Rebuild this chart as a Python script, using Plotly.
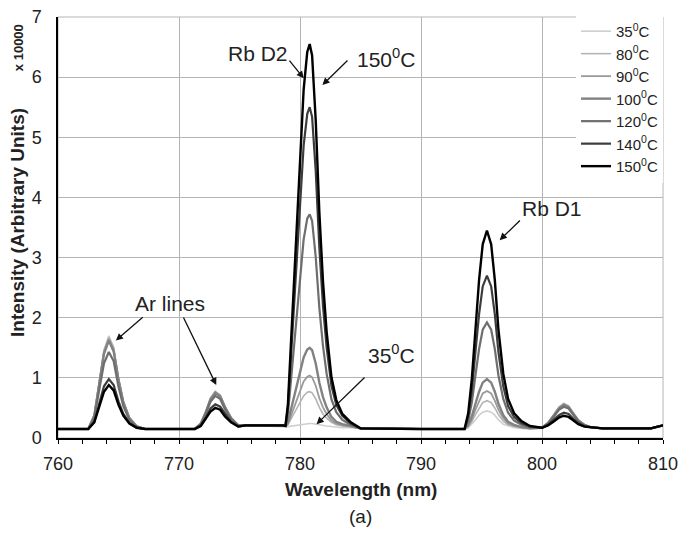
import plotly.graph_objects as go

wavelength = [760, 762.5, 763.0, 763.4, 763.8, 764.2, 764.6, 765.0, 765.4, 765.9, 766.5, 767.2,
              770.0, 771.3, 771.8, 772.2, 772.6, 773.0, 773.4, 773.8, 774.3, 774.9, 775.5,
              778.6, 778.8, 779.0, 779.3, 779.6, 780.0, 780.3, 780.6, 780.8, 781.0, 781.3, 781.6,
              781.9, 782.2, 782.6, 783.0, 783.5, 784.2, 785.0,
              790.0, 793.6, 793.9, 794.2, 794.5, 794.8, 795.1, 795.45, 795.8, 796.1, 796.4, 796.8,
              797.2, 797.7, 798.3, 799.0,
              800.0, 800.5, 801.0, 801.4, 801.8, 802.2, 802.6, 803.0, 803.5, 804.0, 805.0, 809.0, 810.0]

# intensities in units of 10000
i35 = [0.15, 0.15, 0.38, 0.93, 1.47, 1.70, 1.51, 1.00, 0.62, 0.34, 0.20, 0.15,
       0.15, 0.15, 0.24, 0.43, 0.67, 0.78, 0.72, 0.53, 0.34, 0.21, 0.21,
       0.21, 0.20, 0.19, 0.20, 0.21, 0.22, 0.23, 0.24, 0.24, 0.24, 0.23, 0.21,
       0.20, 0.20, 0.19, 0.18, 0.17, 0.17, 0.16,
       0.15, 0.15, 0.17, 0.23, 0.30, 0.38, 0.43, 0.45, 0.43, 0.38, 0.30, 0.23,
       0.20, 0.17, 0.16, 0.15,
       0.17, 0.25, 0.40, 0.52, 0.58, 0.54, 0.42, 0.30, 0.22, 0.18, 0.16, 0.16, 0.21]
i80 = [0.15, 0.15, 0.38, 0.92, 1.45, 1.68, 1.50, 0.99, 0.61, 0.33, 0.20, 0.15,
       0.15, 0.15, 0.24, 0.43, 0.66, 0.77, 0.71, 0.52, 0.34, 0.21, 0.21,
       0.21, 0.20, 0.22, 0.33, 0.45, 0.59, 0.70, 0.76, 0.77, 0.75, 0.65, 0.51,
       0.40, 0.33, 0.26, 0.22, 0.20, 0.19, 0.16,
       0.15, 0.15, 0.19, 0.27, 0.39, 0.50, 0.59, 0.62, 0.59, 0.50, 0.39, 0.28,
       0.22, 0.19, 0.17, 0.16,
       0.17, 0.25, 0.39, 0.51, 0.57, 0.53, 0.41, 0.30, 0.22, 0.18, 0.16, 0.16, 0.21]
i90 = [0.15, 0.15, 0.38, 0.90, 1.43, 1.65, 1.47, 0.98, 0.60, 0.33, 0.20, 0.15,
       0.15, 0.15, 0.24, 0.42, 0.65, 0.76, 0.70, 0.52, 0.33, 0.21, 0.21,
       0.21, 0.20, 0.23, 0.40, 0.57, 0.78, 0.94, 1.02, 1.04, 1.01, 0.87, 0.66,
       0.51, 0.40, 0.29, 0.24, 0.21, 0.19, 0.16,
       0.15, 0.15, 0.20, 0.31, 0.47, 0.62, 0.74, 0.78, 0.74, 0.62, 0.47, 0.33,
       0.24, 0.20, 0.18, 0.16,
       0.17, 0.25, 0.38, 0.50, 0.56, 0.52, 0.40, 0.29, 0.22, 0.18, 0.16, 0.16, 0.21]
i100 = [0.15, 0.15, 0.37, 0.89, 1.40, 1.62, 1.44, 0.96, 0.59, 0.33, 0.19, 0.15,
        0.15, 0.15, 0.24, 0.42, 0.64, 0.75, 0.69, 0.51, 0.33, 0.21, 0.21,
        0.21, 0.20, 0.26, 0.51, 0.77, 1.10, 1.34, 1.47, 1.50, 1.46, 1.24, 0.92,
        0.68, 0.51, 0.35, 0.27, 0.23, 0.20, 0.16,
        0.15, 0.15, 0.22, 0.36, 0.57, 0.77, 0.92, 0.98, 0.92, 0.77, 0.57, 0.38,
        0.27, 0.22, 0.18, 0.16,
        0.17, 0.25, 0.38, 0.49, 0.55, 0.51, 0.40, 0.29, 0.22, 0.18, 0.16, 0.16, 0.21]
i120 = [0.15, 0.15, 0.34, 0.79, 1.24, 1.43, 1.28, 0.85, 0.53, 0.30, 0.19, 0.15,
        0.15, 0.15, 0.23, 0.40, 0.60, 0.70, 0.65, 0.48, 0.32, 0.21, 0.21,
        0.21, 0.20, 0.39, 1.07, 1.77, 2.66, 3.30, 3.65, 3.72, 3.61, 3.01, 2.16,
        1.53, 1.07, 0.64, 0.43, 0.30, 0.22, 0.16,
        0.15, 0.15, 0.29, 0.59, 1.04, 1.48, 1.80, 1.92, 1.80, 1.48, 1.04, 0.65,
        0.42, 0.29, 0.22, 0.18,
        0.17, 0.24, 0.36, 0.47, 0.52, 0.49, 0.38, 0.28, 0.21, 0.18, 0.16, 0.16, 0.21]
i140 = [0.15, 0.15, 0.27, 0.57, 0.86, 0.98, 0.88, 0.61, 0.40, 0.25, 0.17, 0.15,
        0.15, 0.15, 0.21, 0.33, 0.49, 0.56, 0.52, 0.40, 0.27, 0.19, 0.21,
        0.21, 0.20, 0.50, 1.51, 2.57, 3.90, 4.86, 5.39, 5.50, 5.34, 4.44, 3.16,
        2.20, 1.51, 0.87, 0.55, 0.37, 0.24, 0.16,
        0.15, 0.15, 0.35, 0.79, 1.43, 2.06, 2.52, 2.70, 2.52, 2.06, 1.43, 0.86,
        0.53, 0.35, 0.25, 0.19,
        0.17, 0.22, 0.31, 0.38, 0.42, 0.40, 0.32, 0.25, 0.20, 0.18, 0.16, 0.16, 0.21]
i150 = [0.15, 0.15, 0.26, 0.52, 0.77, 0.88, 0.79, 0.55, 0.37, 0.24, 0.17, 0.15,
        0.15, 0.15, 0.20, 0.31, 0.44, 0.50, 0.47, 0.36, 0.26, 0.19, 0.21,
        0.21, 0.20, 0.56, 1.77, 3.05, 4.64, 5.79, 6.42, 6.55, 6.36, 5.28, 3.75,
        2.60, 1.77, 1.01, 0.63, 0.40, 0.26, 0.16,
        0.15, 0.15, 0.41, 0.98, 1.80, 2.63, 3.22, 3.45, 3.22, 2.63, 1.80, 1.07,
        0.65, 0.41, 0.28, 0.20,
        0.17, 0.21, 0.28, 0.34, 0.37, 0.35, 0.29, 0.23, 0.19, 0.18, 0.16, 0.16, 0.21]

series_names = ["35<sup>0</sup>C", "80<sup>0</sup>C", "90<sup>0</sup>C", "100<sup>0</sup>C",
                "120<sup>0</sup>C", "140<sup>0</sup>C", "150<sup>0</sup>C"]
series_values = [i35, i80, i90, i100, i120, i140, i150]
colors = ["#cfcfcf", "#b4b4b4", "#9a9a9a", "#828282", "#6e6e6e", "#3c3c3c", "#000000"]
widths = [1.6, 1.6, 1.8, 2.4, 2.2, 2.2, 2.4]

FONT = "Liberation Sans, Arial, sans-serif"
TXT = "#222222"

fig = go.Figure()
for name, vals, c, w in zip(series_names, series_values, colors, widths):
    assert len(vals) == len(wavelength)
    fig.add_trace(go.Scatter(x=wavelength, y=vals, mode="lines", name=name,
                             line=dict(color=c, width=w)))

fig.update_layout(
    width=678, height=533,
    margin=dict(l=58, r=15, t=17, b=95, autoexpand=False),
    paper_bgcolor="white", plot_bgcolor="white",
    font=dict(family=FONT, size=18, color=TXT),
    showlegend=True,
    legend=dict(x=1, y=1.005, xanchor="right", yanchor="top", bgcolor="white",
                font=dict(size=15, color=TXT), itemwidth=30,
                tracegroupgap=0),
)
fig.update_xaxes(range=[760, 810], dtick=10, tick0=760, showgrid=True,
                 gridcolor="#b4b4b4", gridwidth=1, showline=True, linecolor="black",
                 linewidth=1.5, ticks="outside", ticklen=4, tickcolor="black",
                 ticklabelstandoff=5, ticklabeloverflow="allow",
                 minor=dict(dtick=2, ticks="outside", ticklen=4, tickcolor="black", showgrid=False),
                 tickfont=dict(size=18, color=TXT), zeroline=False)
fig.update_yaxes(range=[0, 7], dtick=1, showgrid=True, gridcolor="#b4b4b4", gridwidth=1,
                 showline=True, linecolor="black", linewidth=1.5, ticks="",
                 ticklabelstandoff=11, ticklabeloverflow="allow",
                 tickfont=dict(size=18, color=TXT), zeroline=False)

fig.add_shape(type="rect", xref="paper", yref="paper", x0=0, x1=1, y0=0, y1=1,
              line=dict(color="#b4b4b4", width=1), layer="below")

# axis titles as annotations
fig.add_annotation(text="<b>Intensity (Arbitrary Units)</b>", xref="paper", yref="paper",
                   x=-0.0661, y=0.5107, textangle=-90, showarrow=False,
                   font=dict(size=19, color=TXT), xanchor="center", yanchor="middle")
fig.add_annotation(text="<b>x 10000</b>", xref="paper", yref="paper",
                   x=-0.0661, y=0.926, textangle=-90, showarrow=False,
                   font=dict(size=13, color=TXT), xanchor="center", yanchor="middle")
fig.add_annotation(text="<b>Wavelength (nm)</b>", xref="paper", yref="paper",
                   x=0.5008, y=-0.1235, showarrow=False,
                   font=dict(size=19, color=TXT), xanchor="center", yanchor="middle")
fig.add_annotation(text="(a)", xref="paper", yref="paper",
                   x=0.5008, y=-0.1876, showarrow=False,
                   font=dict(size=19, color=TXT), xanchor="center", yanchor="middle")

# labels
labels = [("Rb D2", 776.50, 6.39), ("150<sup>0</sup>C", 787.10, 6.32),
          ("35<sup>0</sup>C", 787.53, 1.40), ("Ar lines", 769.25, 2.24),
          ("Rb D1", 800.79, 3.81)]
for t, x, y in labels:
    fig.add_annotation(text=t, x=x, y=y, xref="x", yref="y", showarrow=False,
                       font=dict(size=21, color=TXT))

arrows = [(779.03, 6.30, 780.31, 5.98), (784.05, 6.30, 781.85, 5.87),
          (785.46, 1.03, 781.37, 0.23), (767.13, 2.03, 764.78, 1.62),
          (770.31, 2.03, 773.08, 0.88), (798.30, 3.64, 796.50, 3.29)]
for ax, ay, x, y in arrows:
    fig.add_annotation(text="", x=x, y=y, ax=ax, ay=ay, xref="x", yref="y",
                       axref="x", ayref="y", showarrow=True, arrowhead=2,
                       arrowsize=1.1, arrowwidth=1.3, arrowcolor="#111111")

# remove the default 8px page margin so the figure fills the window exactly
fig.write_html("out.html", config={"displayModeBar": False},
               post_script="document.body.style.margin='0';")
